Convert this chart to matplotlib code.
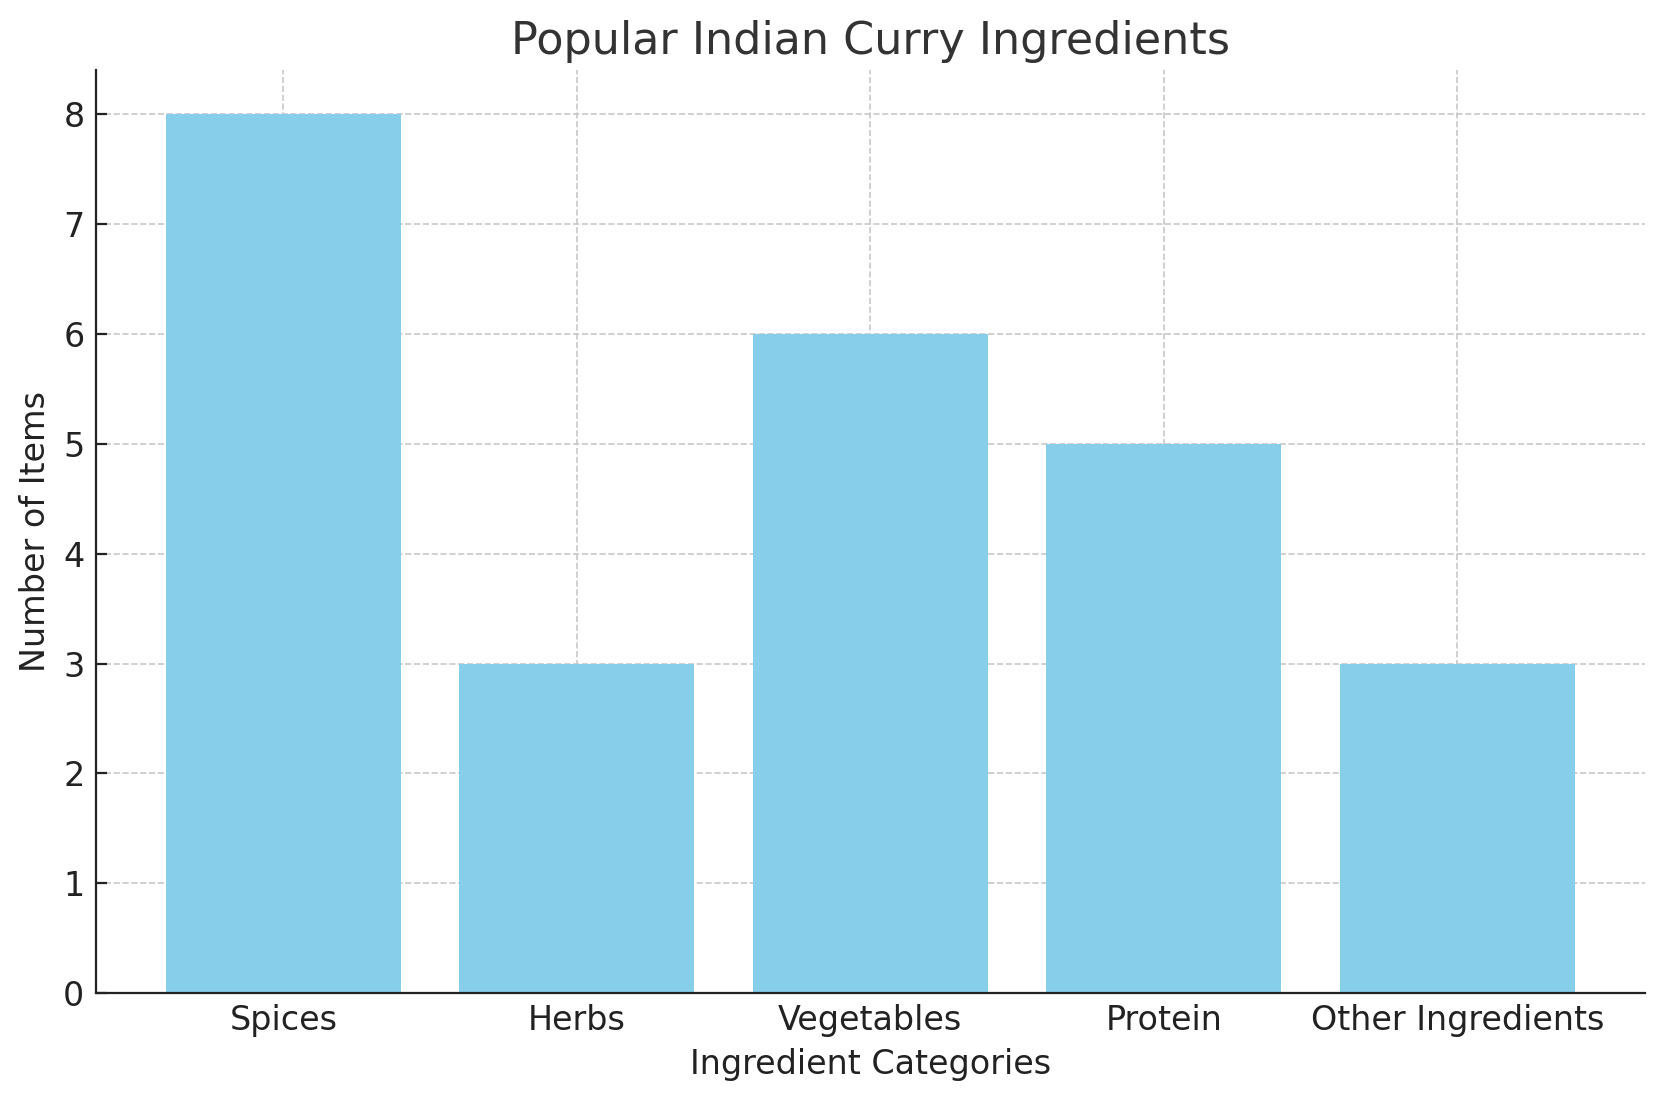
import matplotlib
matplotlib.use('Agg')
import matplotlib.pyplot as plt

categories = ['Spices', 'Herbs', 'Vegetables', 'Protein', 'Other Ingredients']
counts = [8, 3, 6, 5, 3]

plt.rcParams['text.color'] = '#333333'
plt.rcParams['axes.labelcolor'] = '#222222'

fig, ax = plt.subplots(figsize=(8.325, 5.505), dpi=200)
fig.subplots_adjust(left=0.0574, right=0.988, top=0.936, bottom=0.098)

ax.bar(categories, counts, color='skyblue', zorder=2)
ax.grid(True, linestyle='--', color='#c8c8c8', linewidth=0.6, zorder=0)
ax.set_title('Popular Indian Curry Ingredients', fontsize=16, color='#333333')
ax.set_xlabel('Ingredient Categories', fontsize=12, labelpad=4)
ax.set_ylabel('Number of Items', fontsize=12)
ax.tick_params(labelsize=12, colors='#222222', direction='in', length=4, pad=4)
ax.spines['top'].set_visible(False)
ax.spines['right'].set_visible(False)
for s in ('left', 'bottom'):
    ax.spines[s].set_color('#222222')

fig.savefig('out.png')
